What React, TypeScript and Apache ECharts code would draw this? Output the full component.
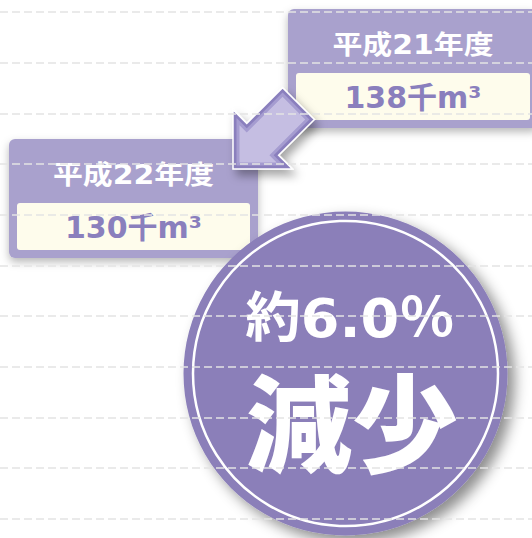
import React, { useEffect, useRef } from "react";
import * as echarts from "echarts";

// ---- data ----
const years: string[] = ["平成21年度", "平成22年度"];
const volumes: number[] = [138, 130];
const unitLabel = "千m³";
const changeRate: string[] = ["約6.0％"];
const changeWord: string[] = ["減少"];
const gridTicks: number[] = [0, 10, 1]; // min, max, interval of the background rule lines

const PURPLE_BOX = "#a9a1cd";
const CREAM = "#fefcec";
const VALUE_PURPLE = "#8a7fbd";
const CIRCLE = "#8b7fb9";
const FONT = "'DejaVu Sans', 'Noto Sans CJK JP', sans-serif";

function arrowPoints(d: number): number[][] {
  const T = [233, 169];
  const U = [Math.SQRT1_2, -Math.SQRT1_2];
  const V = [Math.SQRT1_2, Math.SQRT1_2];
  const s2 = Math.SQRT2;
  const headU = 42 - d;
  const headV = 42 - d - d * s2;
  const shaftV = 22.5 - d;
  const endU = 92.6 - d;
  const uv: number[][] = [
    [d * s2, 0],
    [headU, -headV],
    [headU, -shaftV],
    [endU, -shaftV],
    [endU, shaftV],
    [headU, shaftV],
    [headU, headV],
  ];
  return uv.map(([u, v]) => [T[0] + u * U[0] + v * V[0], T[1] + u * U[1] + v * V[1]]);
}

function yearBox(x: number, y: number, w: number, year: string, vol: number) {
  const cx = w / 2;
  return {
    type: "group",
    x,
    y,
    children: [
      {
        type: "rect",
        shape: { x: 0, y: 0, width: w, height: 119, r: 6 },
        style: {
          fill: PURPLE_BOX,
          shadowBlur: 8,
          shadowOffsetY: 4,
          shadowColor: "rgba(0,0,0,0.28)",
        },
      },
      {
        type: "rect",
        shape: { x: 8, y: 64, width: w - 16, height: 47, r: 3 },
        style: { fill: CREAM },
      },
      {
        type: "text",
        x: cx,
        y: 36,
        scaleX: 1.15,
        style: {
          text: year,
          fill: "#ffffff",
          font: `bold 26px ${FONT}`,
          textAlign: "center",
          textVerticalAlign: "middle",
        },
      },
      {
        type: "text",
        x: cx,
        y: 88,
        style: {
          text: `${vol}${unitLabel}`,
          fill: VALUE_PURPLE,
          font: `bold 30px ${FONT}`,
          textAlign: "center",
          textVerticalAlign: "middle",
        },
      },
    ],
  };
}

export default function App() {
  const ref = useRef<HTMLDivElement>(null);
  useEffect(() => {
    if (!ref.current) return;
    const chart = echarts.init(ref.current, undefined, { renderer: "svg" });
    const cx = 345.5;
    const cy = 373.5;
    const option: any = {
      animation: false,
      backgroundColor: "#ffffff",
      grid: { left: 0, right: 0, top: 12, bottom: 19.3 },
      xAxis: { type: "category", data: years, show: false },
      yAxis: {
        type: "value",
        min: gridTicks[0],
        max: gridTicks[1],
        interval: gridTicks[2],
        axisLabel: { show: false },
        axisLine: { show: false },
        axisTick: { show: false },
        splitLine: { lineStyle: { type: [8, 4], color: "#e4e4e4", width: 1.5 } },
      },
      series: [],
      graphic: [
        yearBox(288, 9, 250, years[0], volumes[0]),
        yearBox(9, 139, 249, years[1], volumes[1]),
        {
          type: "polygon",
          shape: { points: arrowPoints(0) },
          style: {
            fill: "#8a7fbd",
            stroke: "#ffffff",
            lineWidth: 1.5,
            shadowBlur: 10,
            shadowOffsetX: 4,
            shadowOffsetY: 6,
            shadowColor: "rgba(0,0,0,0.35)",
          },
        },
        { type: "polygon", shape: { points: arrowPoints(3.5) }, style: { fill: "#a59cd0" } },
        { type: "polygon", shape: { points: arrowPoints(6.5) }, style: { fill: "#c5bee2" } },
        {
          type: "circle",
          shape: { cx, cy, r: 162 },
          style: {
            fill: CIRCLE,
            shadowBlur: 14,
            shadowOffsetX: 7,
            shadowOffsetY: 7,
            shadowColor: "rgba(0,0,0,0.45)",
          },
        },
        {
          type: "circle",
          shape: { cx, cy, r: 152.5 },
          style: { fill: "none", stroke: "#ffffff", lineWidth: 2.5 },
        },
        {
          type: "text",
          x: 350,
          y: 318,
          scaleX: 1.03,
          style: {
            text: changeRate[0],
            fill: "#ffffff",
            font: `bold 54px ${FONT}`,
            textAlign: "center",
            textVerticalAlign: "middle",
          },
        },
        {
          type: "text",
          x: 352,
          y: 418,
          style: {
            text: changeWord[0],
            fill: "#ffffff",
            font: `900 106px 'Noto Sans CJK JP', sans-serif`,
            textAlign: "center",
            textVerticalAlign: "middle",
          },
        },
      ],
    };
    chart.setOption(option);
    return () => chart.dispose();
  }, []);
  return (
    <div
      ref={ref}
      style={{ position: "fixed", left: 0, top: 0, width: 532, height: 538 }}
    />
  );
}
